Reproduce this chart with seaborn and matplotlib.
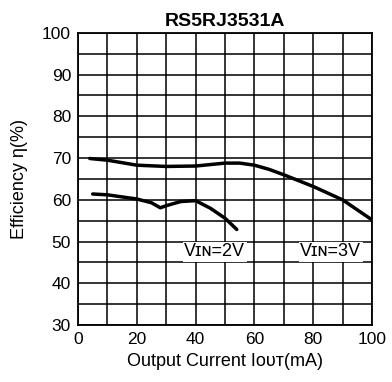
import matplotlib
matplotlib.use("Agg")
import matplotlib.pyplot as plt
import pandas as pd
import seaborn as sns

# values
x_3v = [4, 10, 20, 30, 40, 50, 55, 60, 65, 70, 80, 90, 100]
eff_3v = [69.9, 69.5, 68.3, 68.0, 68.1, 68.8, 68.8, 68.3, 67.3, 66.0, 63.2, 60.0, 55.2]
x_2v = [5, 10, 20, 25, 28, 30, 35, 40, 45, 50, 54]
eff_2v = [61.4, 61.2, 60.2, 59.3, 58.1, 58.6, 59.6, 59.8, 58.0, 55.6, 52.9]

df = pd.concat([
    pd.DataFrame({'current': x_3v, 'eff': eff_3v, 'vin': '3V'}),
    pd.DataFrame({'current': x_2v, 'eff': eff_2v, 'vin': '2V'}),
])

sns.set_style('white')
plt.rcParams['font.family'] = ['Liberation Sans', 'DejaVu Sans']
plt.rcParams['text.color'] = 'black'
plt.rcParams['axes.labelcolor'] = 'black'

fig = plt.figure(figsize=(3.92, 3.82), dpi=100)
ax = fig.add_axes([0.199, 0.149, 0.75, 0.765])

sns.lineplot(data=df, x='current', y='eff', units='vin', estimator=None,
             color='black', linewidth=2.5, ax=ax, legend=False)

ax.set_xlim(0, 100)
ax.set_ylim(30, 100)
ax.set_xticks(range(0, 101, 20))
ax.set_yticks(range(30, 101, 10))
ax.set_xticks(range(0, 101, 10), minor=True)
ax.set_yticks(range(30, 101, 5), minor=True)
ax.grid(True, which='both', color='black', linewidth=1.1)
ax.set_axisbelow(True)
ax.tick_params(which='both', length=0, labelsize=12.5, colors='black', pad=5)
for s in ax.spines.values():
    s.set_color('black')
    s.set_linewidth(1.3)

# small caps "IN" like the datasheet
ax.text(46.5, 47.6, 'Vɪɴ=2V', ha='center', va='center', fontsize=13,
        bbox=dict(facecolor='white', edgecolor='none', pad=1))
ax.text(86, 47.6, 'Vɪɴ=3V', ha='center', va='center', fontsize=13,
        bbox=dict(facecolor='white', edgecolor='none', pad=1))

ax.set_title('RS5RJ3531A', fontsize=14, fontweight='bold', color='black', pad=5)
ax.set_xlabel('Output Current Iᴏᴜᴛ(mA)', fontsize=13, labelpad=4)
ax.set_ylabel('Efficiency η(%)', fontsize=13, labelpad=10)

fig.savefig('out.png', dpi=100)
